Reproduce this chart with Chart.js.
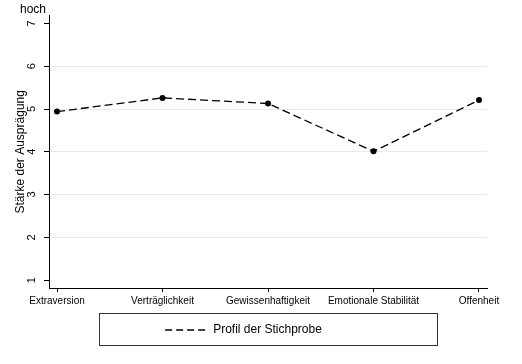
<!DOCTYPE html>
<html>
<head>
<meta charset="utf-8">
<script src="https://cdn.jsdelivr.net/npm/chart.js@4/dist/chart.umd.min.js"></script>
<style>
  html, body { margin: 0; padding: 0; background: #fff; }
  #wrap { width: 522px; height: 364px; }
</style>
</head>
<body>
<div id="wrap"><canvas id="c" width="522" height="364"></canvas></div>
<script>
const categories = ["Extraversion", "Verträglichkeit", "Gewissenhaftigkeit", "Emotionale Stabilität", "Offenheit"];
const profileValues = [4.94, 5.26, 5.13, 4.01, 5.21];
const yTicks = [1, 2, 3, 4, 5, 6, 7];
const seriesLabel = "Profil der Stichprobe";
const yTitle = "Stärke der Ausprägung";
const topLabel = "hoch";

Chart.defaults.font.family = "'Liberation Sans', Arial, sans-serif";
Chart.defaults.color = "#000";

const extras = {
  id: 'extras',
  afterDraw(chart) {
    const ctx = chart.ctx;
    const ca = chart.chartArea;
    const lg = chart.legend;
    ctx.save();
    // legend frame
    ctx.strokeStyle = '#333';
    ctx.lineWidth = 1;
    ctx.strokeRect(Math.round(ca.left + 50) + 0.5, Math.round(lg.top) - 0.5, Math.round(ca.right - ca.left - 100), Math.round(lg.bottom - lg.top));
    // "hoch" label
    ctx.fillStyle = '#000';
    ctx.font = "12px 'Liberation Sans', Arial, sans-serif";
    ctx.textAlign = 'right';
    ctx.textBaseline = 'alphabetic';
    ctx.fillText(topLabel, ca.left - 3, 13);
    ctx.restore();
  }
};

new Chart(document.getElementById('c'), {
  type: 'line',
  data: {
    datasets: [{
      label: seriesLabel,
      data: profileValues.map((v, i) => ({ x: i, y: v })),
      borderColor: '#000',
      backgroundColor: '#000',
      borderWidth: 1.3,
      borderDash: [8, 4],
      pointRadius: 3,
      pointBackgroundColor: '#000',
      pointBorderColor: '#000',
      pointBorderWidth: 0,
      tension: 0,
      fill: false
    }]
  },
  options: {
    responsive: false,
    animation: false,
    events: [],
    layout: { padding: { top: 13, right: 35, bottom: 18, left: 0 } },
    plugins: {
      title: { display: false },
      tooltip: { enabled: false },
      legend: {
        position: 'bottom',
        labels: {
          usePointStyle: true,
          pointStyle: 'line',
          pointStyleWidth: 42,
          padding: 10,
          color: '#000',
          font: { size: 12 },
          generateLabels: (chart) => [{
            text: seriesLabel,
            fillStyle: '#000',
            strokeStyle: '#000',
            fontColor: '#000',
            lineWidth: 1.6,
            lineDash: [7, 4],
            lineCap: 'butt',
            pointStyle: 'line',
            rotation: 0,
            hidden: false,
            datasetIndex: 0
          }]
        }
      }
    },
    scales: {
      x: {
        type: 'linear',
        min: -0.076,
        max: 4.076,
        afterBuildTicks: (s) => { s.ticks = categories.map((c, i) => ({ value: i })); },
        afterFit: (s) => { s.height = 26; },
        ticks: {
          autoSkip: false,
          maxRotation: 0,
          minRotation: 0,
          padding: 3,
          color: '#000',
          font: { size: 10 },
          callback: (v) => categories[v]
        },
        grid: {
          drawOnChartArea: false,
          drawTicks: true,
          tickLength: 4,
          tickColor: '#000',
          color: '#000'
        },
        border: { display: true, color: '#000', width: 1 }
      },
      y: {
        type: 'linear',
        min: 0.815,
        max: 7.185,
        afterBuildTicks: (s) => { s.ticks = yTicks.map(v => ({ value: v })); },
        afterFit: (s) => { s.width = 49; },
        ticks: {
          minRotation: 90,
          maxRotation: 90,
          crossAlign: 'center',
          padding: 9,
          color: '#000',
          font: { size: 11 },
          callback: (v) => String(v)
        },
        grid: {
          drawOnChartArea: true,
          drawTicks: true,
          tickLength: 5,
          tickColor: '#000',
          lineWidth: 1,
          color: (c) => (c.tick && c.tick.value >= 2 && c.tick.value <= 6) ? '#e4ecef' : 'rgba(0,0,0,0)'
        },
        border: { display: true, color: '#000', width: 1 },
        title: {
          display: true,
          text: yTitle,
          color: '#000',
          font: { size: 12 },
          padding: { top: 13, bottom: 0 }
        }
      }
    }
  },
  plugins: [extras]
});
</script>
</body>
</html>
